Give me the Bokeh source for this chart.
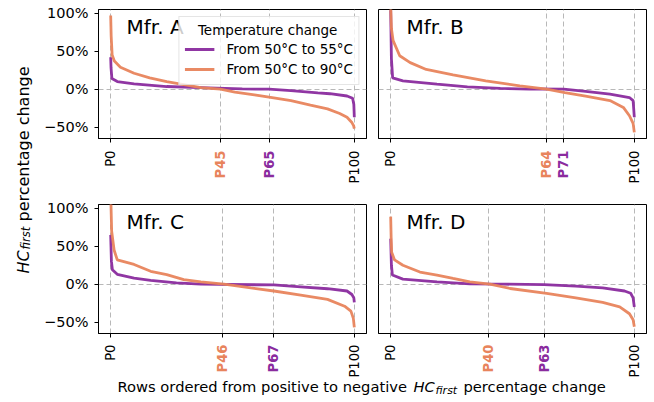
import math
from bokeh.plotting import figure
from bokeh.models import FixedTicker, Label, Legend, LegendItem, Range1d
from bokeh.layouts import row, column
from bokeh.embed import file_html
from bokeh.resources import INLINE

FONT = "DejaVu Sans"
ORANGE = "#E8845C"
PURPLE = "#8A2B9E"
GRID = "#b8b8b8"

# ---------------- data ----------------
mfr_names = ["Mfr. A", "Mfr. B", "Mfr. C", "Mfr. D"]
series_labels = ["From 50°C to 55°C", "From 50°C to 90°C"]
legend_title = "Temperature change"

a55_pct = [0, 0.15, 0.5, 2.7, 9.6, 23, 40, 54, 65, 74, 85, 90, 97, 99.3, 99.8, 100]
a55_val = [42, 28, 14, 10, 7, 3.5, 1.8, 0.3, 0, -2, -5, -6, -9, -12, -20, -37]
a90_pct = [0, 0.2, 0.6, 1.5, 4, 9.6, 16, 23, 30, 37, 45, 51, 59, 65, 74, 82, 89, 94, 97, 99, 99.7, 100]
a90_val = [97, 70, 45, 37, 29, 21, 15, 10, 6, 2, 0, -4, -7.5, -10.6, -15, -21, -26, -32, -37, -44, -48, -52]

b55_pct = [0, 0.3, 0.8, 5, 19, 31.5, 45, 57, 71, 80, 90, 98, 99.5, 100]
b55_val = [104, 40, 15, 11, 6.6, 3, 1, 0.2, 0, -3, -6.6, -11, -15, -37]
b90_pct = [0, 0.3, 1, 3.7, 8, 14.6, 25.6, 39, 53, 64, 71.5, 80, 90, 95.5, 98, 99.5, 100]
b90_val = [110, 80, 64, 44, 35, 26, 19, 11, 4.4, 0, -4.4, -9, -15, -24, -35, -45, -57]

c55_pct = [0, 0.3, 0.7, 2.7, 9.6, 16.4, 27, 37, 67, 78, 89, 97, 99, 99.8, 100]
c55_val = [65, 30, 19, 13, 8, 5, 1.8, 0, -1, -3.5, -6, -9, -13.6, -18, -24]
c90_pct = [0, 0.4, 1.4, 2.7, 9.6, 16.4, 23, 30, 37, 46.5, 57.5, 67, 78, 89, 96, 98.6, 99.6, 100]
c90_val = [120, 70, 45, 32, 26, 17, 12.7, 6, 3, 0, -5, -9, -14.5, -20, -29, -35.5, -45, -57]

d55_pct = [0, 0.3, 0.7, 5, 19, 32.5, 46, 63, 76, 87, 96, 98.5, 99.5, 100]
d55_val = [60, 25, 12, 6.6, 3, 0.4, 0, -0.5, -2.6, -5, -9, -12, -18, -30]
d90_pct = [0, 0.2, 0.4, 1.6, 5, 12, 19, 25.6, 32.5, 40.7, 49, 64, 76, 87, 94, 98, 99.5, 100]
d90_val = [89, 60, 42, 32, 25, 16, 12, 7.5, 3, 0, -5.7, -12, -18, -24, -30, -39, -47, -56]

orange_cross = [45, 64, 46, 40]   # P-tick where 50->90 series crosses zero
purple_cross = [65, 71, 67, 63]   # P-tick where 50->55 series crosses zero

y_ticks = [-50, 0, 50, 100]
y_tick_labels = ["\u221250%", "0%", "50%", "100%"]

YTICK_FS = "14.5px"
XTICK_FS = "13.2px"


def panel(name, p55, v55, p90, v90, oc, pc, width, height, bl, br, bt, bb,
          show_y, with_legend=False):
    p = figure(width=width, height=height, x_range=Range1d(-5, 105),
               y_range=Range1d(-65, 105), output_backend="svg",
               toolbar_location=None, min_border_left=bl, min_border_right=br,
               min_border_top=bt, min_border_bottom=bb)
    p.background_fill_color = "white"
    p.border_fill_color = "white"
    p.outline_line_color = "black"
    p.outline_line_alpha = 1
    p.outline_line_width = 1

    xt = [0, oc, pc, 100]
    p.xaxis.ticker = FixedTicker(ticks=xt)
    p.xaxis.major_label_overrides = {t: "" for t in xt}
    p.yaxis.ticker = FixedTicker(ticks=y_ticks)
    p.yaxis.major_label_overrides = dict(zip(y_ticks, y_tick_labels))
    for ax in (p.xaxis, p.yaxis):
        ax.major_label_text_font = FONT
        ax.major_label_text_font_size = YTICK_FS
        ax.major_label_text_color = "black"
        ax.major_tick_out = 4
        ax.major_tick_in = 0
        ax.minor_tick_line_color = None
        ax.major_label_standoff = 6
        ax.axis_line_color = "black"
        ax.major_tick_line_color = "black"
    p.xaxis.major_label_standoff = 0
    if not show_y:
        p.yaxis.visible = False

    p.xgrid.ticker = FixedTicker(ticks=xt)
    p.ygrid.ticker = FixedTicker(ticks=[0])
    for g in (p.xgrid, p.ygrid):
        g.grid_line_color = GRID
        g.grid_line_dash = "5 3"
        g.grid_line_width = 1

    r55 = p.line(p55, v55, line_color=PURPLE, line_width=2.8, line_alpha=0.95)
    r90 = p.line(p90, v90, line_color=ORANGE, line_width=2.8, line_alpha=0.95)

    p.add_layout(Label(x=28, y=112, x_units="screen", y_units="screen",
                       text=name, text_font=FONT, text_font_size="20px",
                       text_baseline="alphabetic", text_color="black"))

    if with_legend:
        leg = Legend(items=[LegendItem(label=series_labels[0], renderers=[r55]),
                            LegendItem(label=series_labels[1], renderers=[r90])],
                     location="top_right", title="\u2002\u2002" + legend_title,
                     title_text_font=FONT, title_text_font_size="13.5px",
                     title_text_font_style="normal", title_text_color="black",
                     label_text_font=FONT, label_text_font_size="13.5px",
                     label_text_color="black",
                     glyph_width=30, glyph_height=20, label_height=20,
                     label_standoff=12, padding=5, spacing=0, margin=7,
                     title_standoff=1, border_line_color="#cccccc",
                     border_line_width=1, background_fill_color="white",
                     background_fill_alpha=0.8)
        p.add_layout(leg)
    return p


def blank(width, height, x_range=None, bl=0, br=0):
    f = figure(width=width, height=height,
               x_range=x_range if x_range is not None else Range1d(0, 1),
               y_range=Range1d(0, 1), output_backend="svg",
               toolbar_location=None, min_border=0,
               min_border_left=bl, min_border_right=br)
    f.axis.visible = False
    f.grid.visible = False
    f.outline_line_color = None
    f.background_fill_color = "white"
    f.border_fill_color = "white"
    return f


def tick_strip(p, oc, pc, width, height, bl, br, top_gap):
    s = blank(width, height, x_range=p.x_range, bl=bl, br=br)
    for val, txt, col, style in ((0, "P0", "black", "normal"),
                                 (oc, f"P{oc}", ORANGE, "bold"),
                                 (pc, f"P{pc}", PURPLE, "bold"),
                                 (100, "P100", "black", "normal")):
        s.add_layout(Label(x=val, y=height - top_gap, x_units="data",
                           y_units="screen", angle=math.pi / 2, text=txt,
                           text_align="right", text_baseline="middle",
                           text_font=FONT, text_font_size=XTICK_FS,
                           text_font_style=style, text_color=col))
    return s


pA = panel(mfr_names[0], a55_pct, a55_val, a90_pct, a90_val, orange_cross[0], purple_cross[0],
           336, 146, 62, 6, 9, 8, True, with_legend=True)
pB = panel(mfr_names[1], b55_pct, b55_val, b90_pct, b90_val, orange_cross[1], purple_cross[1],
           282, 146, 6, 8, 9, 8, False)
pC = panel(mfr_names[2], c55_pct, c55_val, c90_pct, c90_val, orange_cross[2], purple_cross[2],
           336, 145, 62, 6, 8, 8, True)
pD = panel(mfr_names[3], d55_pct, d55_val, d90_pct, d90_val, orange_cross[3], purple_cross[3],
           282, 145, 6, 8, 8, 8, False)

tA = tick_strip(pA, orange_cross[0], purple_cross[0], 336, 50, 62, 6, 4)
tB = tick_strip(pB, orange_cross[1], purple_cross[1], 282, 50, 6, 8, 4)
tC = tick_strip(pC, orange_cross[2], purple_cross[2], 336, 36, 62, 6, 3)
tD = tick_strip(pD, orange_cross[3], purple_cross[3], 282, 36, 6, 8, 3)

# y-axis title strip
ystrip = blank(36, 377)
y0 = 104
for txt, dx, dy, fs, style in (("HC", 23, 0, "16px", "italic"),
                               ("first", 25.5, 24, "11.5px", "italic"),
                               ("percentage change", 23, 52, "16px", "normal")):
    ystrip.add_layout(Label(x=dx, y=y0 + dy, x_units="screen", y_units="screen",
                            angle=math.pi / 2, text=txt, text_font=FONT,
                            text_font_size=fs, text_font_style=style,
                            text_align="left", text_baseline="alphabetic",
                            text_color="black"))

# x-axis title strip
xstrip = blank(654, 25)
for txt, x, y, fs, style in (("Rows ordered from positive to negative", 117, 16, "14.7px", "normal"),
                             ("HC", 413, 16, "14.7px", "italic"),
                             ("first", 435, 12.5, "11px", "italic"),
                             ("percentage change", 463, 16, "14.7px", "normal")):
    xstrip.add_layout(Label(x=x, y=y, x_units="screen", y_units="screen",
                            text=txt, text_font=FONT, text_font_size=fs,
                            text_font_style=style, text_align="left",
                            text_baseline="alphabetic", text_color="black"))

grid = column(row(pA, pB), row(tA, tB), row(pC, pD), row(tC, tD))
layout = column(row(ystrip, grid), xstrip)

with open("out.html", "w") as fh:
    fh.write(file_html(layout, INLINE))
